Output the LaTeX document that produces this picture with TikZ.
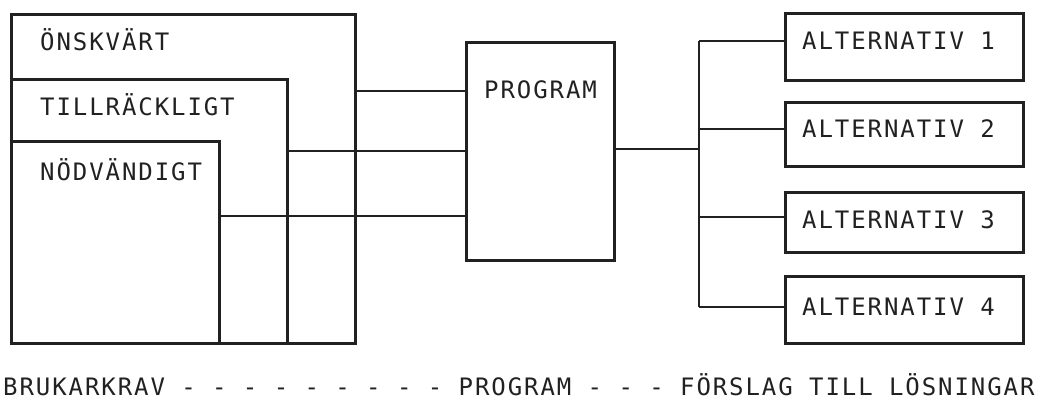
\documentclass[tikz,border=0pt]{standalone}
\usepackage{fontspec}
\newfontfamily\tw[LetterSpace=8]{DejaVu Sans Mono}
\definecolor{ink}{gray}{0.13}
\begin{document}
\begin{tikzpicture}[x=1pt,y=-1pt,
  box/.style={draw=ink,line width=2.8pt,rectangle,inner sep=0pt,anchor=north west},
  lbl/.style={anchor=base west,inner sep=0pt,text=ink,font=\tw\fontsize{24}{28}\selectfont},
  wire/.style={draw=ink,line width=1.3pt}]
\useasboundingbox (0,0) rectangle (1051,402);
% left nested boxes
\node[box,minimum width=344pt,minimum height=329pt] (onsk) at (10,13) {};
\node[box,minimum width=276pt,minimum height=264pt] (till) at (10,78) {};
\node[box,minimum width=208pt,minimum height=202pt] (nod) at (10,140) {};
\node[lbl] (tonsk) at (40,50) {ÖNSKVÄRT};
\node[lbl] (ttill) at (40,115) {TILLRÄCKLIGT};
\node[lbl] (tnod) at (40,180) {NÖDVÄNDIGT};
% program box
\node[box,minimum width=148pt,minimum height=218pt] (prog) at (465,41) {};
\node[lbl] (tprog) at (484,98) {PROGRAM};
% alternatives
\node[box,minimum width=238pt,minimum height=67pt] (a1) at (784,12) {};
\node[box,minimum width=238pt,minimum height=64pt] (a2) at (784,101) {};
\node[box,minimum width=238pt,minimum height=60pt] (a3) at (784,191) {};
\node[box,minimum width=238pt,minimum height=67pt] (a4) at (784,275) {};
\node[lbl] (ta1) at (802,49) {ALTERNATIV 1};
\node[lbl] (ta2) at (802,137) {ALTERNATIV 2};
\node[lbl] (ta3) at (802,228) {ALTERNATIV 3};
\node[lbl] (ta4) at (802,315) {ALTERNATIV 4};
% connector coordinates
\coordinate (y1) at (0,91);
\coordinate (y2) at (0,151);
\coordinate (y3) at (0,216);
\coordinate (yo) at (0,149);
\coordinate (bus) at (699,0);
\coordinate (b1) at (0,41);
\coordinate (b2) at (0,129);
\coordinate (b3) at (0,217);
\coordinate (b4) at (0,307);
\draw[wire] (onsk.east |- y1) -- (prog.west |- y1);
\draw[wire] (till.east |- y2) -- (prog.west |- y2);
\draw[wire] (nod.east |- y3) -- (prog.west |- y3);
\draw[wire] (prog.east |- yo) -- (bus |- yo);
\draw[wire] (bus |- b1) -- (bus |- b4);
\draw[wire] (bus |- b1) -- (a1.west |- b1);
\draw[wire] (bus |- b2) -- (a2.west |- b2);
\draw[wire] (bus |- b3) -- (a3.west |- b3);
\draw[wire] (bus |- b4) -- (a4.west |- b4);
% bottom caption
\node[lbl] (cap) at (3,395) {BRUKARKRAV - - - - - - - - - PROGRAM - - - FÖRSLAG TILL LÖSNINGAR};
\end{tikzpicture}
\end{document}
